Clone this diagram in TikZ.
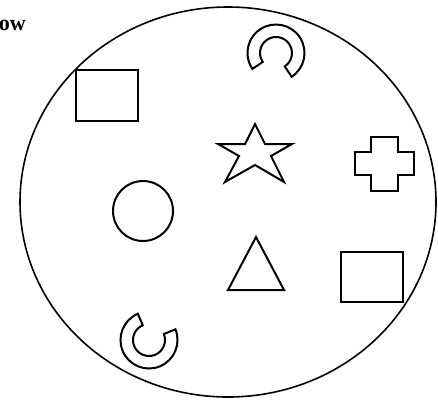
\documentclass[tikz,border=0pt]{standalone}
\usepackage{fontspec}
\setmainfont{Liberation Serif}
\begin{document}
\begin{tikzpicture}[x=1pt,y=-1pt,
  shapeline/.style={line width=2pt, line join=miter},
  bigline/.style={line width=1.6pt}]
\useasboundingbox (0,0) rectangle (438,399);
% outer ellipse
\draw[bigline] (228,202) ellipse [x radius=208, y radius=195];
% label
\node[anchor=base east, inner sep=0pt, font=\bfseries\fontsize{22}{26}\selectfont] (lbl) at (26,30) {ow};
% rectangles
\draw[shapeline] (76,70) rectangle (138,121);
\draw[shapeline] (341,252) rectangle (403,302);
% circle
\draw[shapeline] (143,211) circle [radius=30];
% star
\draw[shapeline] (255,124) -- (265,144) -- (292,144) -- (271,156) -- (284,182) -- (255,165) -- (225,182) -- (239,156) -- (218,144) -- (245,144) -- cycle;
% cross
\draw[shapeline] (371,137) -- (398,137) -- (398,152) -- (414,152) -- (414,175) -- (398,175) -- (398,191) -- (371,191) -- (371,175) -- (355,175) -- (355,152) -- (371,152) -- cycle;
% triangle
\draw[shapeline] (256,237) -- (284,290) -- (228,290) -- cycle;
% top C ring
\draw[shapeline] (276,53) ++(56.7:28.5) arc[start angle=56.7, end angle=-214, radius=28.5]
  -- ++(-214:-12.5) arc[start angle=-214, end angle=56.7, radius=16] -- cycle;
% bottom C ring
\draw[shapeline] (149,340) ++(-113:28.5) arc[start angle=-113, end angle=-382, radius=28.5]
  -- ++(-382:-12.5) arc[start angle=-382, end angle=-113, radius=16] -- cycle;
\end{tikzpicture}
\end{document}
